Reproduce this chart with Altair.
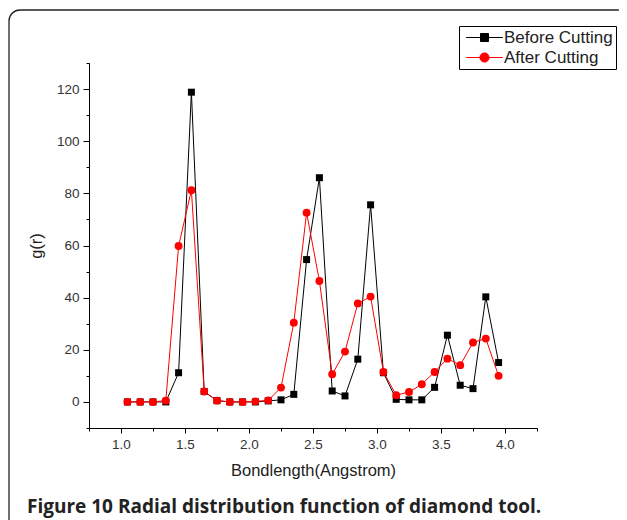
import altair as alt
import pandas as pd

# ---- data ----
bondlength = [1.05, 1.15, 1.25, 1.35, 1.45, 1.55, 1.65, 1.75, 1.85, 1.95,
              2.05, 2.15, 2.25, 2.35, 2.45, 2.55, 2.65, 2.75, 2.85, 2.95,
              3.05, 3.15, 3.25, 3.35, 3.45, 3.55, 3.65, 3.75, 3.85, 3.95]
before_cutting = [0, 0, 0, 0, 11.2, 118.8, 4.0, 0.5, 0, 0,
                  0, 0.4, 0.8, 2.9, 54.6, 86.0, 4.2, 2.3, 16.4, 75.6,
                  11.2, 1.0, 0.8, 0.8, 5.6, 25.6, 6.4, 5.1, 40.3, 15.1]
after_cutting = [0, 0, 0, 0.5, 59.8, 81.2, 4.0, 0.5, 0, 0,
                 0.2, 0.6, 5.5, 30.4, 72.6, 46.4, 10.6, 19.3, 37.8, 40.4,
                 11.5, 2.6, 3.8, 6.8, 11.5, 16.6, 14.1, 22.8, 24.3, 10.0]
series_names = ["Before Cutting", "After Cutting"]
series_colors = ["#000000", "#ff0000"]

x_major = [1.0, 1.5, 2.0, 2.5, 3.0, 3.5, 4.0]
x_minor = [0.75, 1.25, 1.75, 2.25, 2.75, 3.25, 3.75, 4.25]
y_major = [0, 20, 40, 60, 80, 100, 120]
y_minor = [-10, 10, 30, 50, 70, 90, 110, 130]

x_title = "Bondlength(Angstrom)"
y_title = "g(r)"
caption = "Figure 10 Radial distribution function of diamond tool."

df = pd.DataFrame({
    "r": bondlength * 2,
    "g": before_cutting + after_cutting,
    "series": [series_names[0]] * len(bondlength) + [series_names[1]] * len(bondlength),
})

FONT = "Liberation Sans"
xscale = alt.Scale(domain=[0.75, 4.25], nice=False, zero=False)
yscale = alt.Scale(domain=[-10, 130], nice=False, zero=False)
cscale = alt.Scale(domain=series_names, range=series_colors)

major_x_axis = alt.Axis(orient="bottom", values=x_major, format=".1f", title=x_title,
                        tickSize=5, labelPadding=4, grid=False, titlePadding=12)
major_y_axis = alt.Axis(orient="left", values=y_major, format="d", title=y_title,
                        tickSize=6, labelPadding=4, grid=False, titlePadding=12)
minor_x_axis = alt.Axis(orient="bottom", values=x_minor, labels=False, title=None,
                        tickSize=3, grid=False)
minor_y_axis = alt.Axis(orient="left", values=y_minor, labels=False, title=None,
                        tickSize=3, grid=False)

# legend symbols: a line segment with the marker on it
sq_path = "M-4.6,0H4.6M-1,-1H1V1H-1Z"
ci_path = "M-4.6,0H4.6M1.15,0A1.15,1.15,0,1,1,-1.15,0A1.15,1.15,0,1,1,1.15,0Z"
shape_scale = alt.Scale(domain=series_names, range=[sq_path, ci_path])

legend = alt.Legend(
    title=None, orient="none", legendX=370, legendY=-37,
    strokeColor="black", padding=3, symbolSize=64, symbolStrokeWidth=1,
    symbolOffset=14, labelOffset=11, labelFont=FONT, labelFontSize=17,
    labelColor="#222222", rowPadding=2, symbolOpacity=1,
)

base = alt.Chart(df)

def series_layer(idx, mark, axes=False):
    return mark.encode(
        x=alt.X("r:Q", scale=xscale, axis=major_x_axis if axes else None),
        y=alt.Y("g:Q", scale=yscale, axis=major_y_axis if axes else None),
    ).transform_filter(alt.datum.series == series_names[idx])

line_before = series_layer(0, base.mark_line(strokeWidth=1, color=series_colors[0]))
pts_before = series_layer(0, base.mark_square(size=49, opacity=1, color=series_colors[0]), axes=True)
line_after = series_layer(1, base.mark_line(strokeWidth=1, color=series_colors[1]))
pts_after = series_layer(1, base.mark_circle(size=62, opacity=1, color=series_colors[1]))

# invisible marks that only carry the legend
legend_layer = base.mark_point(filled=True, opacity=0).encode(
    x=alt.X("r:Q", scale=xscale, axis=None),
    y=alt.Y("g:Q", scale=yscale, axis=None),
    fill=alt.Fill("series:N", scale=cscale, legend=legend),
    stroke=alt.Stroke("series:N", scale=cscale, legend=legend),
    shape=alt.Shape("series:N", scale=shape_scale, legend=legend),
)

minor = base.mark_point(opacity=0).encode(
    x=alt.X("r:Q", scale=xscale, axis=minor_x_axis),
    y=alt.Y("g:Q", scale=yscale, axis=minor_y_axis),
)

deco_df = pd.DataFrame({"caption": [caption]})
border = alt.Chart(deco_df).mark_rect(
    filled=False, color="#222222", strokeWidth=1.3, cornerRadius=11
).encode(x=alt.value(-80), x2=alt.value(539), y=alt.value(-53), y2=alt.value(480))
cap = alt.Chart(deco_df).mark_text(
    align="left", baseline="alphabetic", font="Open Sans", fontSize=19,
    fontWeight="bold", color="#222222"
).encode(x=alt.value(-62), y=alt.value(450), text="caption:N")

chart = alt.layer(
    border, minor, line_before, pts_before, line_after, pts_after, legend_layer, cap
).resolve_axis(x="independent", y="independent").properties(
    width=448, height=365,
    autosize=alt.AutoSizeParams(type="none"),
    padding={"left": 81, "top": 55, "right": 82, "bottom": 92},
).configure_view(strokeWidth=0).configure_axis(
    domainColor="black", tickColor="black", domainWidth=1, tickWidth=1,
    labelFont=FONT, labelFontSize=13.5, labelColor="#333333",
    titleFont=FONT, titleFontSize=16.5, titleFontWeight="normal", titleColor="#222222",
)

chart.save("out.html", embed_options={"renderer": "svg", "actions": False})
